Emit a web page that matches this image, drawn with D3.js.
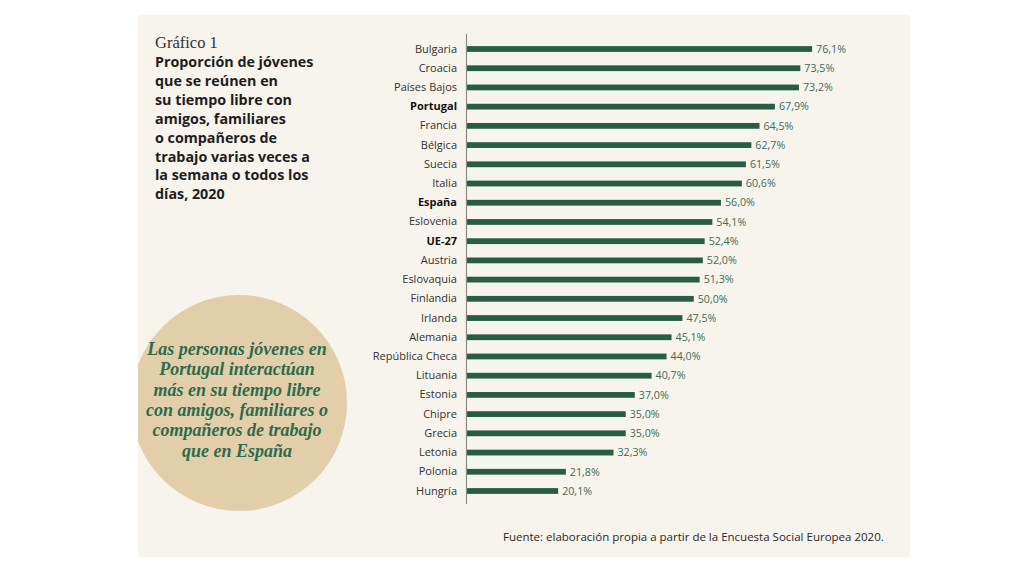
<!DOCTYPE html>
<html><head><meta charset="utf-8">
<script src="https://cdn.jsdelivr.net/npm/d3@7"></script>
<style>
html,body{margin:0;padding:0;background:#fff;}
svg{display:block;}
</style></head>
<body>
<svg id="c" width="1024" height="576"></svg>
<script>
const countries = ["Bulgaria","Croacia","Países Bajos","Portugal","Francia","Bélgica","Suecia","Italia","España","Eslovenia","UE-27","Austria","Eslovaquia","Finlandia","Irlanda","Alemania","República Checa","Lituania","Estonia","Chipre","Grecia","Letonia","Polonia","Hungría"];
const values = [76.1,73.5,73.2,67.9,64.5,62.7,61.5,60.6,56.0,54.1,52.4,52.0,51.3,50.0,47.5,45.1,44.0,40.7,37.0,35.0,35.0,32.3,21.8,20.1];
const boldCountries = ["Portugal","España","UE-27"];
const titleLabel = "Gráfico 1";
const titleLines = ["Proporción de jóvenes","que se reúnen en","su tiempo libre con","amigos, familiares","o compañeros de","trabajo varias veces a","la semana o todos los","días, 2020"];
const calloutLines = ["Las personas jóvenes en","Portugal interactúan","más en su tiempo libre","con amigos, familiares o","compañeros de trabajo","que en España"];
const sourceText = "Fuente: elaboración propia a partir de la Encuesta Social Europea 2020.";

const svg = d3.select("#c");
const green = "#285c45";
const sans = "'Open Sans','Noto Sans',sans-serif";

// panel
svg.append("rect").attr("x",138).attr("y",15).attr("width",772).attr("height",542).attr("fill","#f7f3ed");

svg.append("defs").append("clipPath").attr("id","pc").append("rect")
  .attr("x",138).attr("y",15).attr("width",772).attr("height",542);

// callout circle
svg.append("circle").attr("cx",239).attr("cy",403).attr("r",108)
  .attr("fill","#e2cfa9").attr("clip-path","url(#pc)");
svg.append("g").selectAll("text").data(calloutLines).join("text")
  .attr("x",237).attr("y",(d,i)=>355 + i*20.3)
  .attr("text-anchor","middle")
  .attr("font-family","'Liberation Serif','DejaVu Serif',serif")
  .attr("font-style","italic").attr("font-weight","bold")
  .attr("font-size",18).attr("fill","#2e6b4b")
  .text(d=>d);

// title
svg.append("text").attr("x",155).attr("y",48)
  .attr("font-family","'Liberation Serif',serif").attr("font-size",16.5).attr("fill","#333")
  .text(titleLabel);
svg.append("g").selectAll("text").data(titleLines).join("text")
  .attr("x",155).attr("y",(d,i)=>67 + i*18.9)
  .attr("font-family",sans).attr("font-weight","bold")
  .attr("font-size",14.3).attr("fill","#1e1e1e")
  .text(d=>d);

// scales
const x = d3.scaleLinear().domain([0,80]).range([467, 467+80*4.535]);
const y = d3.scaleBand().domain(countries).range([39.4, 500.6]).paddingInner(0.7).paddingOuter(0.35);

// bars
svg.append("g").selectAll("rect").data(countries).join("rect")
  .attr("x",x(0)).attr("y",d=>y(d))
  .attr("width",(d,i)=>x(values[i])-x(0)).attr("height",y.bandwidth())
  .attr("fill",green);

// axis line
svg.append("line").attr("x1",466.5).attr("x2",466.5).attr("y1",34).attr("y2",504)
  .attr("stroke","#8a8a85").attr("stroke-width",1.2);

// country labels via axis
const ax = svg.append("g").attr("transform","translate(457,0)")
  .call(d3.axisLeft(y).tickSize(0).tickPadding(0));
ax.select(".domain").remove();
ax.selectAll("text")
  .attr("font-family",sans).attr("font-size",11)
  .attr("font-weight",d=>boldCountries.includes(d)?"bold":"normal")
  .attr("fill",d=>boldCountries.includes(d)?"#111":"#333");

// value labels
svg.append("g").selectAll("text").data(countries).join("text")
  .attr("x",(d,i)=>x(values[i])+4).attr("y",d=>y(d)+y.bandwidth()/2)
  .attr("dy","0.35em")
  .attr("font-family",sans).attr("font-size",10.7)
  .attr("fill","#436b57")
  .text((d,i)=>values[i].toFixed(1).replace(".",",")+"%");

// source
svg.append("text").attr("x",503).attr("y",541)
  .attr("font-family",sans).attr("font-size",11.5).attr("fill","#2a2a2a")
  .text(sourceText);
</script>
</body></html>
